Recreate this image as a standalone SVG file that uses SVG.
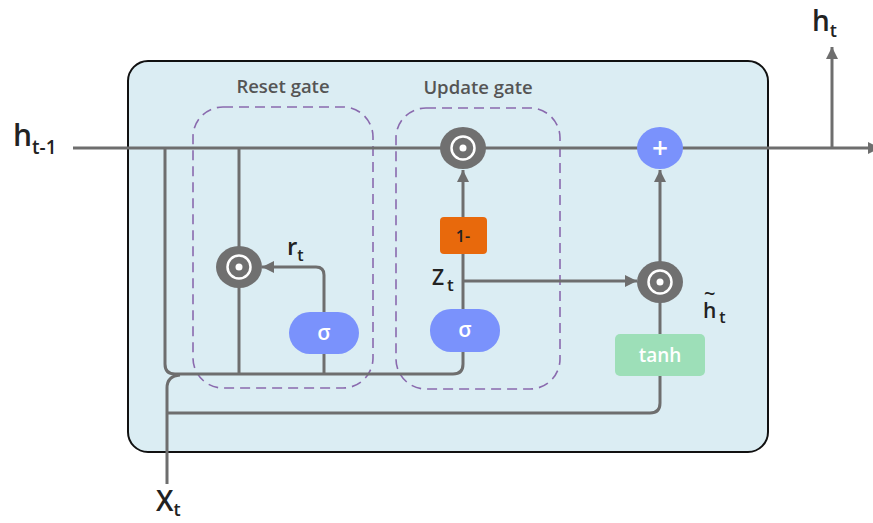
<svg xmlns="http://www.w3.org/2000/svg" width="873" height="523" viewBox="0 0 873 523">
<defs>
<style>
.ln{fill:none;stroke:#6e6e6e;stroke-width:3}
.dash{fill:none;stroke:#8a6aae;stroke-width:1.6;stroke-dasharray:10 6}
.lbl{font-family:"Open Sans","Noto Sans",sans-serif;font-weight:600;fill:#555;font-size:18.5px}
.math{font-family:"Open Sans","Noto Sans",sans-serif;font-weight:600;fill:#222}
.odot{fill:#707070}
.sig{fill:#7a92fc}
.wt{font-family:"Open Sans","Noto Sans",sans-serif;font-weight:600;fill:#fff;text-anchor:middle}
</style>
<marker id="ah" markerUnits="userSpaceOnUse" markerWidth="12" markerHeight="12" refX="10" refY="5" orient="auto" viewBox="0 0 10 10">
<path d="M0,0 L10,5 L0,10 z" fill="#6e6e6e"/>
</marker>
</defs>
<rect id="cell" x="128" y="61" width="640" height="391" rx="20" fill="#dbedf3" stroke="#111" stroke-width="2"/>
<g id="reset-gate-box">
<rect x="193" y="107" width="180" height="281" rx="30" class="dash"/>
<text class="lbl" x="283" y="93" text-anchor="middle">Reset gate</text>
</g>
<g id="update-gate-box">
<rect x="396" y="108" width="164" height="281" rx="30" class="dash"/>
<text class="lbl" x="478" y="94" text-anchor="middle">Update gate</text>
</g>
<g id="connectors">
<path class="ln" d="M73,148 H880" marker-end="url(#ah)"/>
<path class="ln" d="M832,148 V47" marker-end="url(#ah)"/>
<path class="ln" d="M165,148 V364 Q165,374 175,374 H453 Q463,374 463,364 V330"/>
<path class="ln" d="M239,148 V374"/>
<path class="ln" d="M324,333 V374"/>
<path class="ln" d="M324,312 V275 Q324,267 316,267 H262" marker-end="url(#ah)"/>
<path class="ln" d="M463,330 V236"/>
<path class="ln" d="M463,236 V170" marker-end="url(#ah)"/>
<path class="ln" d="M463,281 H637" marker-end="url(#ah)"/>
<path class="ln" d="M660,282 V170" marker-end="url(#ah)"/>
<path class="ln" d="M660,355 V282"/>
<path class="ln" d="M167,484 V388 Q167,376 180,375"/>
<path class="ln" d="M167,413 H650 Q660,413 660,403 V376"/>
</g>
<g id="odot-update">
<ellipse class="odot" cx="463" cy="148" rx="23" ry="21"/>
<circle cx="463" cy="148" r="11.5" fill="none" stroke="#fff" stroke-width="2.5"/>
<circle cx="463" cy="148" r="3.5" fill="#fff"/>
</g>
<g id="odot-reset">
<ellipse class="odot" cx="239" cy="267" rx="23" ry="21"/>
<circle cx="239" cy="267" r="11.5" fill="none" stroke="#fff" stroke-width="2.5"/>
<circle cx="239" cy="267" r="3.5" fill="#fff"/>
</g>
<g id="odot-candidate">
<ellipse class="odot" cx="660" cy="282" rx="23" ry="21"/>
<circle cx="660" cy="282" r="11.5" fill="none" stroke="#fff" stroke-width="2.5"/>
<circle cx="660" cy="282" r="3.5" fill="#fff"/>
</g>
<g id="plus">
<ellipse class="sig" cx="660" cy="148" rx="23" ry="21"/>
<text class="wt" x="660" y="158" font-size="28">+</text>
</g>
<g id="sigma-reset">
<rect class="sig" x="289" y="312" width="70" height="42" rx="21"/>
<text class="wt" x="324" y="340" font-size="21">σ</text>
</g>
<g id="sigma-update">
<rect class="sig" x="430" y="309" width="70" height="43" rx="21"/>
<text class="wt" x="465" y="337" font-size="21">σ</text>
</g>
<g id="one-minus">
<rect x="440" y="217" width="47" height="37" rx="4" fill="#e8690c"/>
<text x="463" y="242" font-size="16" text-anchor="middle" font-family="Open Sans, sans-serif" font-weight="600" fill="#222">1-</text>
</g>
<g id="tanh">
<rect x="615" y="334" width="90" height="42" rx="5" fill="#9ddfb8"/>
<text class="wt" x="660" y="362" font-size="19">tanh</text>
</g>
<g id="labels">
<text class="math" x="13" y="146" font-size="30">h<tspan font-size="19" dy="8">t-1</tspan></text>
<text class="math" x="812" y="31" font-size="28">h<tspan font-size="18" dy="6">t</tspan></text>
<text class="math" x="156" y="511" font-size="28" font-weight="500">X<tspan font-size="18" dy="5">t</tspan></text>
<text class="math" x="287" y="255" font-size="24" font-weight="700">r<tspan font-size="16" dy="6">t</tspan></text>
<text class="math" x="432" y="285" font-size="21">Z<tspan font-size="17" dx="3" dy="6">t</tspan></text>
<text class="math" x="704" y="301" font-size="20">~<tspan x="703" y="318" font-size="21">h</tspan><tspan font-size="16" dx="3" dy="5">t</tspan></text>
</g>
</svg>
